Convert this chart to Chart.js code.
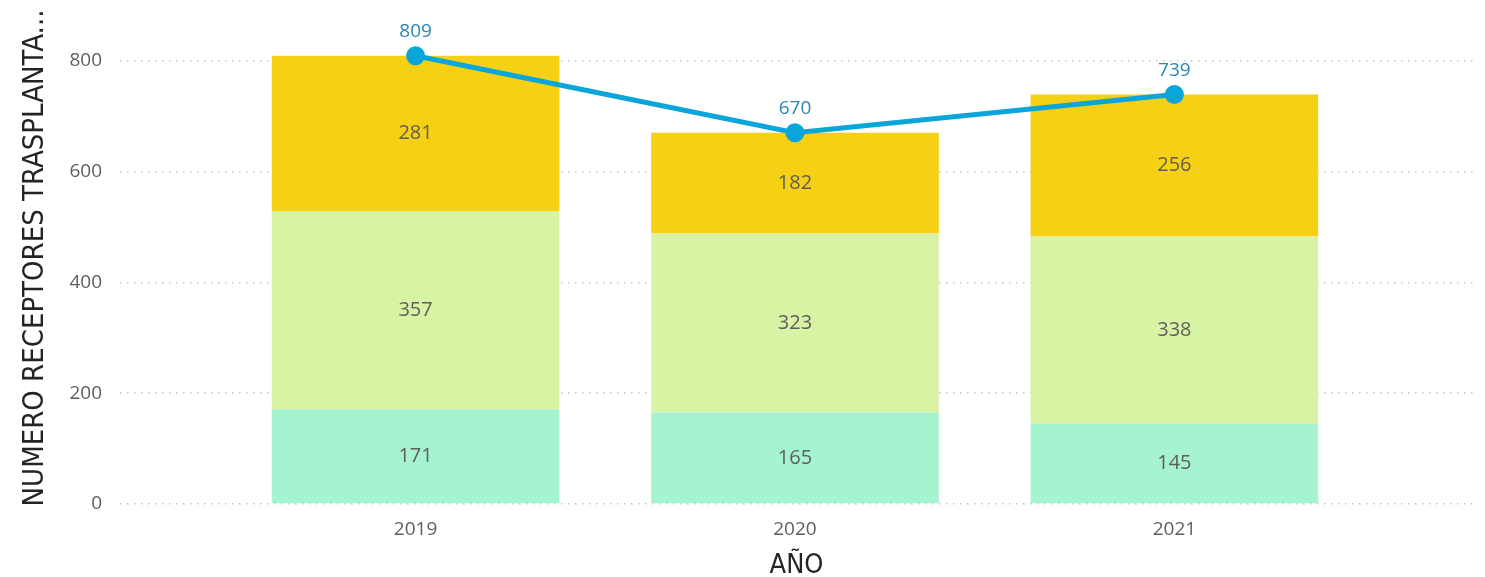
<!DOCTYPE html>
<html>
<head>
<meta charset="utf-8">
<script src="https://cdn.jsdelivr.net/npm/chart.js@4.4.0/dist/chart.umd.min.js"></script>
<style>
  html, body { margin: 0; padding: 0; background: #fff; }
  #wrap { width: 1485px; height: 577px; }
</style>
</head>
<body>
<div id="wrap"><canvas id="myChart"></canvas></div>
<script>
// values
const years = ['2019', '2020', '2021'];
const bottomSeries = [171, 165, 145];
const middleSeries = [357, 323, 338];
const topSeries = [281, 182, 256];
const totals = [809, 670, 739];
const yTicks = [0, 200, 400, 600, 800];

const toPoints = arr => arr.map((v, i) => ({ x: i, y: v }));

// draws value labels on bars and above line points
const valueLabels = {
    id: 'valueLabels',
    afterDatasetsDraw(chart) {
        const ctx = chart.ctx;
        ctx.save();
        ctx.textAlign = 'center';
        ctx.textBaseline = 'middle';
        chart.data.datasets.forEach((ds, di) => {
            const meta = chart.getDatasetMeta(di);
            meta.data.forEach((el, i) => {
                const v = ds.data[i].y;
                if (meta.type === 'bar') {
                    ctx.fillStyle = '#605E5C';
                    ctx.font = '20px "Open Sans", sans-serif';
                    ctx.fillText(v, el.x, (el.y + el.base) / 2);
                } else {
                    ctx.fillStyle = '#2A86B4';
                    ctx.font = '19px "Open Sans", sans-serif';
                    ctx.fillText(v, el.x, el.y - 24);
                }
            });
        });
        ctx.restore();
    }
};

const ctx = document.getElementById('myChart').getContext('2d');

new Chart(ctx, {
    data: {
        datasets: [
            {
                type: 'line',
                label: 'Total',
                data: toPoints(totals),
                borderColor: '#0AA6DA',
                backgroundColor: '#0AA6DA',
                borderWidth: 5,
                pointRadius: 7,
                pointHoverRadius: 7,
                stack: 'line',
                order: 0
            },
            {
                type: 'bar',
                label: 'Serie 1',
                data: toPoints(bottomSeries),
                backgroundColor: '#A6F3CF',
                stack: 'bars',
                order: 1,
                barPercentage: 0.758,
                categoryPercentage: 1
            },
            {
                type: 'bar',
                label: 'Serie 2',
                data: toPoints(middleSeries),
                backgroundColor: '#D8F3A4',
                stack: 'bars',
                order: 1,
                barPercentage: 0.758,
                categoryPercentage: 1
            },
            {
                type: 'bar',
                label: 'Serie 3',
                data: toPoints(topSeries),
                backgroundColor: '#F6D015',
                stack: 'bars',
                order: 1,
                barPercentage: 0.758,
                categoryPercentage: 1
            }
        ]
    },
    options: {
        responsive: true,
        maintainAspectRatio: false,
        animation: false,
        layout: { padding: 0 },
        plugins: {
            legend: { display: false },
            tooltip: { enabled: false }
        },
        scales: {
            x: {
                type: 'linear',
                stacked: true,
                offset: false,
                min: -0.779,
                max: 2.787,
                afterBuildTicks(scale) {
                    scale.ticks = years.map((_, i) => ({ value: i }));
                },
                afterFit(scale) {
                    scale.height = 73;
                    scale.paddingLeft = 0;
                    scale.paddingRight = 0;
                },
                grid: { display: false },
                border: { display: false },
                ticks: {
                    color: '#605E5C',
                    font: { family: '"Open Sans", sans-serif', size: 19 },
                    padding: 6,
                    callback: v => years[v]
                },
                title: {
                    display: true,
                    text: 'AÑO',
                    color: '#252423',
                    font: { family: '"DejaVu Sans Condensed", "Liberation Sans Narrow", sans-serif', size: 27 },
                    padding: { top: 0, bottom: -5 }
                }
            },
            y: {
                stacked: true,
                min: 0,
                max: 888,
                afterBuildTicks(scale) {
                    scale.ticks = yTicks.map(v => ({ value: v }));
                },
                afterFit(scale) {
                    scale.width = 120;
                    scale.paddingTop = 0;
                    scale.paddingBottom = 0;
                },
                border: { display: false, dash: [1.5, 5.5] },
                grid: {
                    color: '#C8C6C4',
                    lineWidth: 1.5,
                    drawTicks: false
                },
                ticks: {
                    color: '#605E5C',
                    font: { family: '"Open Sans", sans-serif', size: 19 },
                    padding: 18
                },
                title: {
                    display: true,
                    text: 'NUMERO RECEPTORES TRASPLANTA...',
                    color: '#252423',
                    font: { family: '"DejaVu Sans Condensed", "Liberation Sans Narrow", sans-serif', size: 29 },
                    padding: { top: 18, bottom: 0 }
                }
            }
        }
    },
    plugins: [valueLabels]
});
</script>
</body>
</html>
